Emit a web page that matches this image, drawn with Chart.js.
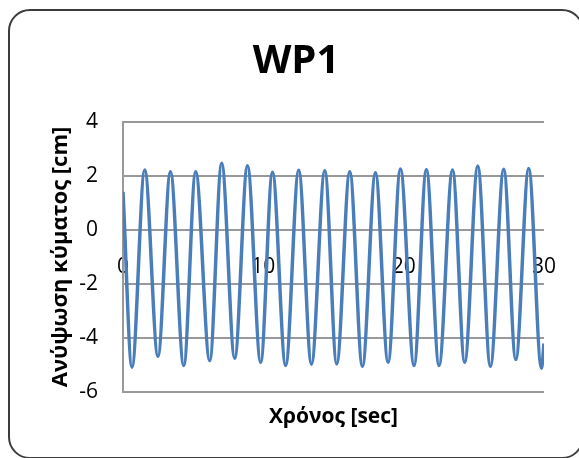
<!DOCTYPE html>
<html>
<head>
<meta charset="utf-8">
<script src="https://cdn.jsdelivr.net/npm/chart.js@4.4.1/dist/chart.umd.min.js"></script>
<style>
  html, body { margin: 0; padding: 0; background: #fff; overflow: hidden; width: 579px; height: 458px; }
  #frame { position: absolute; left: 8px; top: 9px; width: 576px; height: 450px; border: 2px solid #3c3c3c; border-radius: 22px; box-sizing: border-box; }
  #c { position: absolute; left: 0; top: 0; }
</style>
</head>
<body>
<div id="frame"></div>
<canvas id="c" width="592" height="458"></canvas>
<script>
// Time of each read-off point (s): start, alternating troughs/crests, end
const times = [0, 0.64, 1.55, 2.49, 3.38, 4.33, 5.18, 6.18, 7.03, 7.96, 8.87, 9.81, 10.65, 11.59, 12.52, 13.43, 14.38, 15.23, 16.16, 17.06, 17.99, 18.89, 19.77, 20.74, 21.62, 22.52, 23.48, 24.35, 25.28, 26.18, 27.13, 27.99, 28.91, 29.82, 30];
// Wave elevation (cm) at those times
const elevation = [1.41, -5.08, 2.22, -4.68, 2.16, -5.02, 2.16, -4.84, 2.47, -4.75, 2.38, -4.90, 2.14, -5.02, 2.21, -4.97, 2.19, -4.96, 2.16, -5.05, 2.12, -4.90, 2.26, -5.02, 2.24, -5.02, 2.22, -4.90, 2.37, -5.05, 2.25, -4.80, 2.28, -5.12, -4.2];
const xTicks = [0, 10, 20, 30];
const yTicks = [-6, -4, -2, 0, 2, 4];
const chartTitle = 'WP1';
const xTitle = 'Χρόνος [sec]';
const yTitle = 'Ανύψωση κύματος [cm]';

const points = times.map((t, i) => ({ x: t, y: elevation[i] }));
const FONT = "'Open Sans', 'DejaVu Sans', sans-serif";
const gridColor = '#999999';

new Chart(document.getElementById('c'), {
  type: 'line',
  data: {
    datasets: [{
      data: points,
      borderColor: '#4a7ebb',
      borderWidth: 3.5,
      pointRadius: 0,
      fill: false,
      cubicInterpolationMode: 'monotone'
    }]
  },
  options: {
    responsive: false,
    animation: false,
    devicePixelRatio: 1,
    layout: { padding: 0 },
    plugins: {
      legend: { display: false },
      tooltip: { enabled: false },
      title: {
        display: true,
        text: chartTitle,
        color: '#000',
        font: { family: FONT, size: 40, weight: 'bold', lineHeight: 1.2 },
        padding: { top: 38, bottom: 36 }
      }
    },
    scales: {
      x: {
        type: 'linear',
        position: 'bottom',
        min: xTicks[0],
        max: xTicks[xTicks.length - 1],
        grid: { display: false, drawTicks: false },
        border: { display: false },
        ticks: { display: false },
        title: {
          display: true,
          text: xTitle,
          color: '#000',
          font: { family: FONT, size: 21, weight: 'bold', lineHeight: 1.2 },
          padding: { top: 0, bottom: 28 }
        },
        afterFit: (s) => { s.height = 66; }
      },
      x2: {
        type: 'linear',
        axis: 'x',
        position: { y: 0 },
        min: xTicks[0],
        max: xTicks[xTicks.length - 1],
        afterBuildTicks: (s) => { s.ticks = xTicks.map(v => ({ value: v })); },
        grid: { display: false, drawTicks: true, tickLength: 24 },
        border: { display: false },
        ticks: { color: '#000', padding: 0, maxRotation: 0, font: { family: FONT, size: 21, lineHeight: 1.2 } }
      },
      y: {
        type: 'linear',
        position: 'left',
        min: yTicks[0],
        max: yTicks[yTicks.length - 1],
        afterBuildTicks: (s) => { s.ticks = yTicks.map(v => ({ value: v })); },
        grid: { color: gridColor, lineWidth: 2, drawTicks: false },
        border: { display: true, color: gridColor, width: 2 },
        ticks: { color: '#000', padding: 25, font: { family: FONT, size: 21, lineHeight: 1.2 } },
        title: {
          display: true,
          text: yTitle,
          color: '#000',
          font: { family: FONT, size: 22, weight: 'bold', lineHeight: 1.2 },
          padding: { top: 48, bottom: 0 }
        },
        afterFit: (s) => { s.width = 123; }
      },
      yRight: {
        type: 'linear',
        axis: 'y',
        position: 'right',
        min: yTicks[0],
        max: yTicks[yTicks.length - 1],
        grid: { display: false, drawTicks: false },
        border: { display: false },
        ticks: { display: false },
        afterFit: (s) => { s.width = 48; }
      }
    }
  }
});
</script>
</body>
</html>
